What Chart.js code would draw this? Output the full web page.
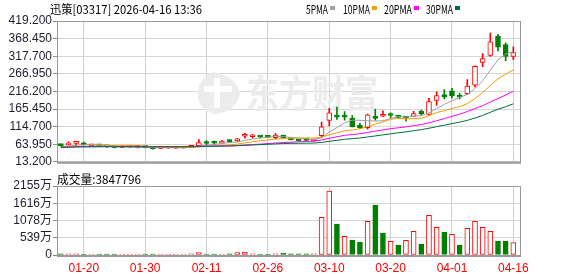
<!DOCTYPE html>
<html>
<head>
<meta charset="utf-8">
<script src="https://cdn.jsdelivr.net/npm/chart.js@4.4.1/dist/chart.umd.min.js"></script>
<style>
  html, body { margin: 0; padding: 0; background: #fff; }
  #wrap { position: relative; width: 578px; height: 276px; overflow: hidden; }
  canvas { position: absolute; left: 0; }
</style>
</head>
<body>
<div id="wrap">
  <canvas id="kline" width="578" height="170" style="top:0"></canvas>
  <canvas id="vol" width="578" height="106" style="top:170px"></canvas>
</div>
<script>
// trading days shown on the chart
const dates = ["01-15","01-16","01-19","01-20","01-21","01-22","01-23","01-26","01-27","01-28",
  "01-29","01-30","02-02","02-03","02-04","02-05","02-06","02-09","02-10","02-11",
  "02-12","02-13","02-16","02-20","02-23","02-24","02-25","02-26","02-27","03-02",
  "03-03","03-04","03-05","03-06","03-09","03-10","03-11","03-12","03-13","03-16",
  "03-17","03-18","03-19","03-20","03-23","03-24","03-25","03-26","03-27","03-30",
  "03-31","04-01","04-02","04-08","04-09","04-10","04-13","04-14","04-15","04-16"];

const open = [61, 62, 66.5, 67.5, 59.5, 60, 57.5, 56, 54.5, 55.5,
  55, 54.5, 53, 52, 53, 52.5, 53, 55, 60, 67.7,
  68, 67, 75.3, 73.4, 87, 85.5, 86.5, 85.6, 82.8, 89.4,
  79, 75, 76.2, 73.5, 88.4, 132.6, 144.8, 145.8, 138.3, 118.5,
  111.9, 140.1, 144.5, 151.4, 143.9, 142, 143.8, 158.9, 149.5, 189.9,
  206.8, 218.1, 203.1, 209.6, 234, 299.8, 319.6, 375, 351.5, 316.8];
const high = [62.5, 71, 72.5, 70, 62, 61, 59, 57, 57, 57,
  57, 55.5, 53.5, 54.5, 54.5, 55, 55.5, 60, 77, 74.3,
  73, 75.3, 77.2, 80.7, 95, 92.2, 87.6, 86.5, 95, 90.3,
  80, 76.5, 77, 75.5, 127.9, 167.4, 171.1, 158, 146.7, 124.2,
  150.5, 165.5, 159.9, 154.2, 146.7, 143.9, 158.9, 162.6, 196.5, 215.3,
  221.8, 224.7, 210.6, 250, 290, 325.2, 384.4, 380.7, 356.2, 345];
const low = [58.5, 61, 60, 61, 58, 58, 55, 53.5, 54, 54.5,
  53.5, 53, 49.5, 51, 52, 51.5, 52.5, 54.5, 60, 60.5,
  62, 65, 69, 71.5, 81, 81, 82, 82.5, 79, 82,
  76, 72.5, 73, 72, 83.7, 116.6, 135.4, 133.5, 113.8, 109.1,
  107.2, 133.5, 143, 140.1, 139.2, 130.7, 143.8, 147.6, 146.7, 175.8,
  194.6, 196.5, 194.6, 206.8, 229.4, 287.6, 316.8, 332.7, 304.5, 307.4];
const close = [60, 67.5, 67, 62, 61, 59, 56.5, 54.5, 55.5, 56,
  56.5, 54, 51, 53.5, 54, 54.5, 55, 59.3, 68.7, 66,
  66.8, 69.6, 71.5, 78.1, 88.4, 86.5, 84.7, 83.7, 90.3, 82.8,
  77.2, 74, 75, 74.5, 113.8, 154.2, 142, 142, 113.8, 111.9,
  148.6, 138.3, 144.8, 146.7, 141.1, 139.2, 152.3, 151.4, 187.1, 204,
  199.3, 203.1, 199.3, 231.2, 288.6, 311.1, 359, 344, 316.8, 328];

// moving averages
const ma5 = [56.5, 58.5, 61, 62.3, 63.5, 63.3, 61.1, 58.6, 57.3, 56.3,
  55.8, 55.3, 54.6, 54.2, 53.8, 53.4, 53.6, 55.3, 58.3, 60.7,
  63.2, 66.1, 68.5, 70.4, 74.9, 78.8, 81.8, 84.3, 86.7, 85.6,
  83.7, 81.6, 79.9, 76.7, 82.9, 98.3, 111.9, 125.3, 133.2, 132.8,
  131.7, 130.9, 131.5, 138.1, 143.9, 142, 144.8, 146.1, 154.2, 166.8,
  178.8, 189, 198.6, 207.4, 224.3, 246.7, 277.8, 306.8, 323.9, 331.8];
const ma10 = [53, 55, 56.5, 57.5, 58.5, 59.2, 59.6, 59.7, 59.8, 59.9,
  59.6, 58.2, 56.6, 55.8, 55.1, 54.6, 54.5, 54.9, 56.3, 57.3,
  58.3, 59.8, 61.9, 64.4, 67.8, 71, 74, 76.4, 78.6, 80.2,
  81.3, 81.7, 82.1, 81.7, 84.3, 91, 96.8, 102.6, 104.9, 107.8,
  115, 121.4, 128.4, 135.6, 138.3, 136.8, 137.9, 138.8, 146.1, 155.4,
  160.4, 166.9, 172.4, 180.8, 195.6, 212.7, 233.4, 252.7, 265.6, 278];
const ma20 = [55.3, 55.9, 56.5, 56.8, 57, 57.2, 57.3, 57.3, 57.3, 57.4,
  57.5, 57.4, 57.2, 57.2, 57.1, 57.1, 57.1, 57.3, 58, 58.6,
  58.9, 59, 59.2, 60.1, 61.4, 62.8, 64.2, 65.7, 67.4, 68.7,
  69.8, 70.8, 72, 73, 76, 81, 85.4, 89.5, 91.7, 94,
  98.1, 101.6, 105.2, 108.7, 111.3, 113.9, 117.3, 120.7, 125.5, 131.6,
  137.7, 144.2, 150.4, 158.2, 166.9, 174.8, 185.6, 195.7, 205.9, 216.7];
const ma30 = [55.2, 55.6, 56, 56.2, 56.4, 56.5, 56.5, 56.5, 56.5, 56.5,
  56.5, 56.5, 56.5, 56.5, 56.5, 56.5, 56.5, 56.6, 57, 57.4,
  57.8, 58.3, 58.8, 59.6, 60.7, 61.7, 62.7, 63.7, 64.9, 65.8,
  66.4, 66.6, 66.9, 67.3, 69, 72.2, 75.1, 78, 79.9, 81.8,
  84.8, 87.7, 90.8, 93.9, 96.8, 99.6, 102.9, 105.9, 109.9, 114.5,
  118.9, 123.3, 127.6, 132.7, 139.4, 146.9, 156, 164.7, 172.2, 180.4];

// volume in 万股, and whether the bar is drawn as a rising (red) bar
const volume = [34, 36, 36, 32, 30, 31, 30, 30, 32, 30,
  30, 30, 32, 30, 30, 30, 30, 33, 72, 31,
  31, 32, 34, 72, 94, 34, 31, 31, 34, 62,
  36, 34, 34, 34, 1177, 1999, 968, 583, 468, 406,
  1052, 1561, 687, 427, 312, 458, 739, 344, 1239, 864,
  718, 645, 312, 833, 1052, 864, 739, 437, 437, 384.7796];
const volUp = [0, 1, 1, 0, 1, 0, 0, 0, 1, 1,
  1, 0, 0, 1, 1, 1, 1, 1, 1, 0,
  0, 1, 0, 1, 1, 1, 0, 0, 1, 0,
  0, 0, 0, 1, 1, 1, 0, 1, 0, 0,
  1, 0, 0, 1, 0, 1, 1, 0, 1, 1,
  0, 1, 0, 1, 1, 1, 1, 0, 0, 1];

const priceTicks = [13.2, 63.95, 114.7, 165.45, 216.2, 266.95, 317.7, 368.45, 419.2];
const volTicks = [0, 539, 1078, 1616, 2155];
const xTickIdx = [3, 11, 19, 27, 35, 43, 51, 59];

const RED = '#ff0000';
const GREEN = '#008000';
const AXIS_FONT = { family: 'Arial, "Liberation Sans", "Noto Sans CJK SC", sans-serif', size: 12 };

const up = close.map((c, i) => c >= open[i]);

// plot frame, heavier line along the bottom
const frame = {
  id: 'frame',
  afterDatasetsDraw(chart) {
    const a = chart.chartArea, ctx = chart.ctx;
    ctx.save();
    ctx.strokeStyle = '#9a9a9a';
    ctx.lineWidth = 1;
    ctx.strokeRect(a.left + 0.5, a.top + 0.5, a.right - a.left - 1, a.bottom - a.top);
    ctx.lineWidth = 2;
    ctx.beginPath();
    ctx.moveTo(a.left, a.bottom + 1);
    ctx.lineTo(a.right, a.bottom + 1);
    ctx.stroke();
    ctx.restore();
  }
};

const watermark = {
  id: 'watermark',
  beforeDatasetsDraw(chart) {
    const ctx = chart.ctx;
    ctx.save();
    ctx.fillStyle = '#ececed';
    ctx.beginPath();
    ctx.moveTo(214, 72);
    ctx.quadraticCurveTo(236, 76, 240, 94);
    ctx.quadraticCurveTo(236, 112, 214, 114);
    ctx.quadraticCurveTo(196, 108, 198, 92);
    ctx.quadraticCurveTo(200, 76, 214, 72);
    ctx.fill();
    ctx.fillStyle = '#fff';
    ctx.fillRect(204, 86, 28, 6);
    ctx.fillRect(214, 78, 6, 30);
    ctx.fillStyle = '#ececed';
    ctx.font = 'bold 38px "Noto Sans CJK SC"';
    ctx.textBaseline = 'middle';
    ctx.fillText('东方财富', 246, 93, 132);
    ctx.restore();
  }
};

const header = {
  id: 'header',
  afterDraw(chart) {
    const ctx = chart.ctx;
    ctx.save();
    ctx.textBaseline = 'middle';
    ctx.fillStyle = '#000';
    ctx.font = '12px "Noto Sans CJK SC"';
    ctx.fillText('迅策[03317] 2026-04-16 13:36', 50, 9, 152);
    const items = [
      ['5PMA', 306, 22, '#a0a0a0'],
      ['10PMA', 343, 27, '#f0a000'],
      ['20PMA', 384, 28, '#ff00ff'],
      ['30PMA', 426, 27, '#006e3c']
    ];
    items.forEach(([t, x, w, c]) => {
      ctx.fillStyle = '#000';
      ctx.fillText(t, x, 9, w);
      ctx.fillStyle = c;
      ctx.fillRect(x + w + 2, 6, 5, 4);
    });
    ctx.restore();
  }
};

const volHeader = {
  id: 'volHeader',
  afterDraw(chart) {
    const ctx = chart.ctx;
    ctx.save();
    ctx.textBaseline = 'middle';
    ctx.fillStyle = '#000';
    ctx.font = '12px "Noto Sans CJK SC"';
    ctx.fillText('成交量:' + Math.round(volume[volume.length - 1] * 10000), 57, 9, 84);
    ctx.restore();
  }
};

function xScale(showLabels) {
  return {
    type: 'linear',
    min: -0.5,
    max: 60,
    offset: false,
    afterBuildTicks: s => { s.ticks = xTickIdx.map(v => ({ value: v })); },
    afterFit: s => { s.height = showLabels ? 21 : 0; },
    grid: { color: '#cfcfcf', borderDash: [4, 4], drawTicks: false, offset: false },
    border: { display: false },
    ticks: {
      display: showLabels,
      color: RED,
      font: AXIS_FONT,
      padding: 6,
      maxRotation: 0,
      autoSkip: false,
      callback: v => dates[v]
    }
  };
}

new Chart(document.getElementById('kline'), {
  type: 'bar',
  data: {
    datasets: [
      {
        label: 'wick',
        data: dates.map((d, i) => ({ x: i, y: [low[i], high[i]] })),
        backgroundColor: up.map(u => u ? RED : GREEN),
        barThickness: 1,
        grouped: false,
        order: 3
      },
      {
        label: 'body',
        data: dates.map((d, i) => ({ x: i, y: [open[i], close[i]] })),
        backgroundColor: up.map(u => u ? '#ffffff' : GREEN),
        borderColor: up.map(u => u ? RED : GREEN),
        borderWidth: 1,
        borderSkipped: false,
        barThickness: 5,
        minBarLength: 2,
        grouped: false,
        order: 2
      },
      { type: 'line', label: '30PMA', data: dates.map((d, i) => ({ x: i, y: ma30[i] })), borderColor: '#006e3c', borderWidth: 1, pointRadius: 0, order: 1 },
      { type: 'line', label: '20PMA', data: dates.map((d, i) => ({ x: i, y: ma20[i] })), borderColor: '#ff00ff', borderWidth: 1, pointRadius: 0, order: 1 },
      { type: 'line', label: '10PMA', data: dates.map((d, i) => ({ x: i, y: ma10[i] })), borderColor: '#f0a000', borderWidth: 1, pointRadius: 0, order: 1 },
      { type: 'line', label: '5PMA', data: dates.map((d, i) => ({ x: i, y: ma5[i] })), borderColor: '#a0a0a0', borderWidth: 1, pointRadius: 0, order: 1 }
    ]
  },
  options: {
    responsive: false,
    animation: false,
    events: [],
    layout: { padding: { top: 21, right: 57, bottom: 5, left: 0 } },
    scales: {
      x: xScale(false),
      y: {
        min: 13.2,
        max: 419.2,
        afterBuildTicks: s => { s.ticks = priceTicks.map(v => ({ value: v })); },
        afterFit: s => { s.width = 57; },
        grid: { color: '#d6d6d6', tickLength: 4, tickColor: '#8a8a8a' },
        border: { display: false },
        ticks: { color: '#1e1e2e', font: AXIS_FONT, padding: 1, autoSkip: false, callback: v => v.toFixed(3) }
      }
    },
    plugins: { legend: { display: false }, tooltip: { enabled: false } }
  },
  plugins: [watermark, frame, header]
});

new Chart(document.getElementById('vol'), {
  type: 'bar',
  data: {
    datasets: [{
      label: '成交量',
      data: dates.map((d, i) => ({ x: i, y: volume[i] })),
      backgroundColor: volUp.map(u => u ? '#ffffff' : GREEN),
      borderColor: volUp.map(u => u ? RED : GREEN),
      borderWidth: 1,
      borderSkipped: false,
      barThickness: 5,
      minBarLength: 1
    }]
  },
  options: {
    responsive: false,
    animation: false,
    events: [],
    layout: { padding: { top: 16, right: 57, bottom: 0, left: 0 } },
    scales: {
      x: xScale(true),
      y: {
        min: 0,
        max: 2155,
        afterBuildTicks: s => { s.ticks = volTicks.map(v => ({ value: v })); },
        afterFit: s => { s.width = 57; },
        grid: { color: '#d6d6d6', tickLength: 4, tickColor: '#8a8a8a' },
        border: { display: false },
        ticks: { color: '#1e1e2e', font: AXIS_FONT, padding: 1, autoSkip: false, callback: v => v === 0 ? '0' : v + '万' }
      }
    },
    plugins: { legend: { display: false }, tooltip: { enabled: false } }
  },
  plugins: [frame, volHeader]
});
</script>
</body>
</html>
